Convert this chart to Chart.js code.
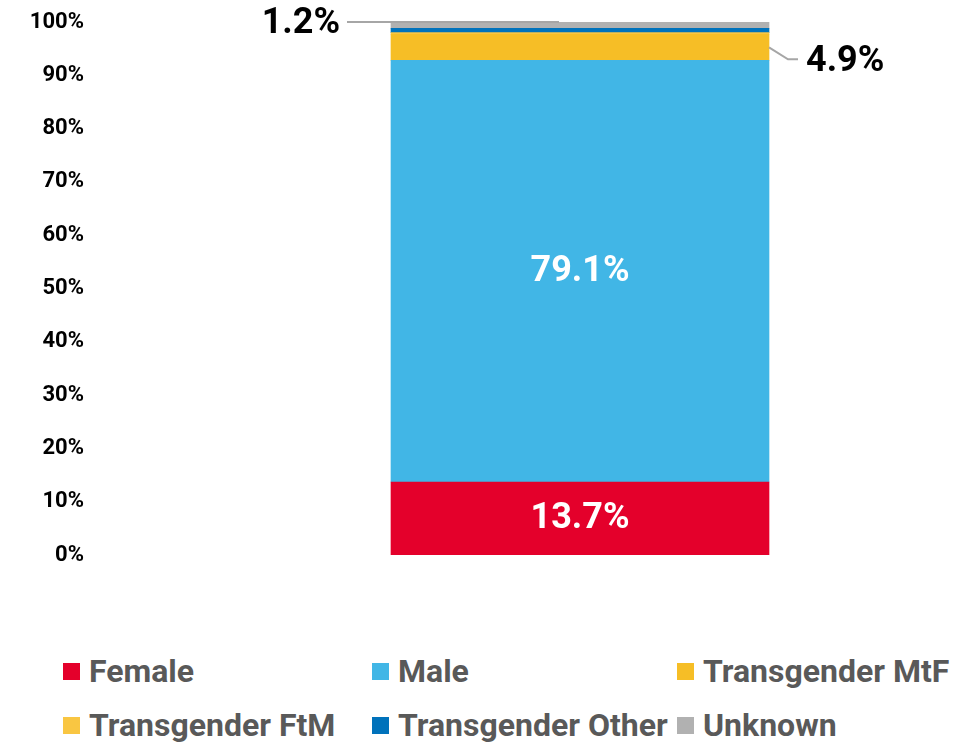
<!DOCTYPE html>
<html>
<head>
<meta charset="utf-8">
<script src="https://cdn.jsdelivr.net/npm/chart.js@4.4.1/dist/chart.umd.min.js"></script>
<style>
  html, body { margin: 0; padding: 0; background: #fff; }
  #wrap { position: relative; width: 976px; height: 744px; overflow: hidden; }
  #chart { position: absolute; left: 0; top: 0; }
  .legend-item {
    position: absolute; display: flex; align-items: center;
    font-family: Roboto, sans-serif; font-weight: bold; font-size: 32px; color: #595959;
    white-space: nowrap; line-height: 1;
  }
  .legend-box { width: 17px; height: 17px; margin-right: 9px; flex: none; }
</style>
</head>
<body>
<div id="wrap">
  <canvas id="chart" width="976" height="600"></canvas>
</div>
<script>
// data
const categories = ["All"];
const seriesNames = ["Female", "Male", "Transgender MtF", "Transgender FtM", "Transgender Other", "Unknown"];
const femaleValues = [13.7];
const maleValues = [79.1];
const mtfValues = [4.9];
const ftmValues = [0.3];
const otherValues = [0.8];
const unknownValues = [1.2];
const yTicks = [0, 10, 20, 30, 40, 50, 60, 70, 80, 90, 100];

const seriesColors = ["#E4002B", "#41B6E6", "#F6BE26", "#F9C642", "#0072BB", "#B1B1B1"];
// where each segment's value label goes
const labelModes = ["inside", "inside", "right", "none", "none", "left"];

const allValues = [femaleValues, maleValues, mtfValues, ftmValues, otherValues, unknownValues];

const datasets = seriesNames.map((name, i) => ({
  label: name,
  data: allValues[i],
  backgroundColor: seriesColors[i],
  borderWidth: 0,
  barThickness: 378,
}));

// value labels + leader lines
const segLabels = {
  id: "segLabels",
  afterDatasetsDraw(chart) {
    const ctx = chart.ctx;
    ctx.save();
    chart.data.datasets.forEach((ds, i) => {
      const mode = labelModes[i];
      if (mode === "none") return;
      const bar = chart.getDatasetMeta(i).data[0];
      const text = ds.data[0].toFixed(1) + "%";
      const half = bar.width / 2;
      const mid = (bar.y + bar.base) / 2;
      ctx.textBaseline = "middle";
      if (mode === "inside") {
        ctx.fillStyle = "#fff";
        ctx.font = "bold 36px Roboto";
        ctx.textAlign = "center";
        ctx.fillText(text, bar.x, mid + 1);
      } else if (mode === "right") {
        const x0 = bar.x + half;
        ctx.strokeStyle = "#A6A6A6";
        ctx.lineWidth = 2;
        ctx.beginPath();
        ctx.moveTo(x0, mid);
        ctx.lineTo(x0 + 19, mid + 12);
        ctx.lineTo(x0 + 29, mid + 12);
        ctx.stroke();
        ctx.fillStyle = "#000";
        ctx.font = "bold 36px Roboto";
        ctx.textAlign = "left";
        ctx.fillText(text, x0 + 37, mid + 15);
      } else if (mode === "left") {
        const x0 = bar.x - half;
        ctx.strokeStyle = "#A6A6A6";
        ctx.lineWidth = 2;
        ctx.beginPath();
        ctx.moveTo(bar.x - 21, bar.y);
        ctx.lineTo(x0 - 44, bar.y);
        ctx.stroke();
        ctx.fillStyle = "#000";
        ctx.font = "bold 36px Roboto";
        ctx.textAlign = "right";
        ctx.fillText(text, x0 - 51, bar.y + 2);
      }
    });
    ctx.restore();
  }
};

new Chart(document.getElementById("chart"), {
  type: "bar",
  data: { labels: categories, datasets: datasets },
  options: {
    responsive: false,
    animation: false,
    devicePixelRatio: 1,
    layout: { padding: { top: 22, bottom: 45, left: 0, right: 16 } },
    plugins: { legend: { display: false }, tooltip: { enabled: false } },
    scales: {
      x: { stacked: true, display: false },
      y: {
        stacked: true,
        min: 0,
        max: 100,
        afterFit(scale) {
          // wide axis so the bar sits right of centre; keep vertical padding small
          scale.width = 200;
          scale.paddingTop = 10;
          scale.paddingBottom = 10;
        },
        afterBuildTicks(scale) { scale.ticks = yTicks.map(v => ({ value: v })); },
        grid: { display: false, drawTicks: false },
        border: { display: false },
        ticks: {
          padding: 116,
          color: "#000",
          font: { family: "Roboto", weight: "bold", size: 22 },
          callback: v => v + "%",
        },
      },
    },
  },
  plugins: [segLabels],
});

// legend in 3 columns
const legendCols = [63, 372, 677];
const legendRows = [671, 725];
const wrap = document.getElementById("wrap");
seriesNames.forEach((name, i) => {
  const item = document.createElement("div");
  item.className = "legend-item";
  item.style.left = legendCols[i % 3] + "px";
  item.style.top = (legendRows[Math.floor(i / 3)] - 17) + "px";
  item.style.height = "34px";
  const box = document.createElement("span");
  box.className = "legend-box";
  box.style.background = seriesColors[i];
  const label = document.createElement("span");
  label.textContent = name;
  item.appendChild(box);
  item.appendChild(label);
  wrap.appendChild(item);
});
</script>
</body>
</html>
